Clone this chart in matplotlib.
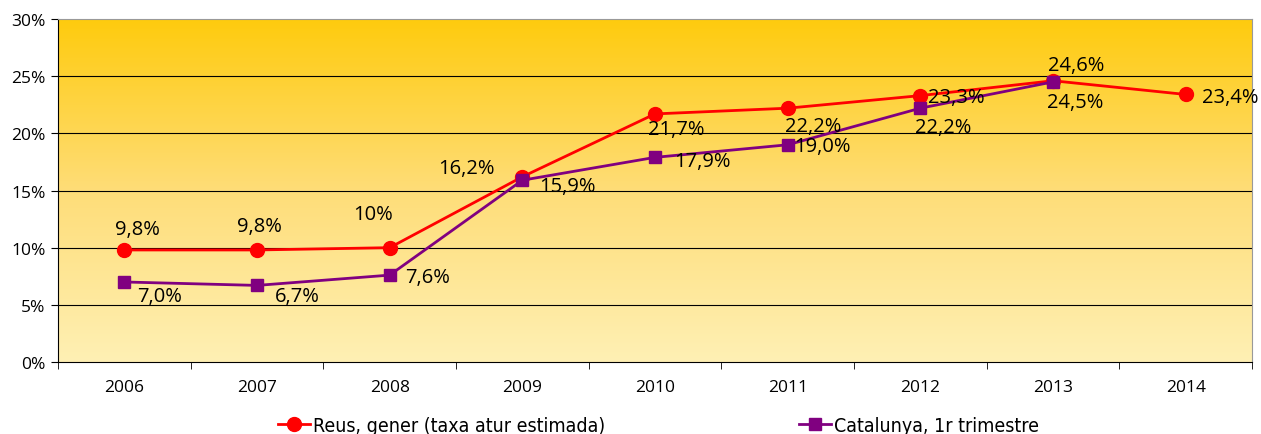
import numpy as np
import matplotlib.pyplot as plt
from matplotlib.colors import LinearSegmentedColormap
from matplotlib.ticker import FixedLocator

# Dades
anys = ['2006', '2007', '2008', '2009', '2010', '2011', '2012', '2013', '2014']
reus = [9.8, 9.8, 10.0, 16.2, 21.7, 22.2, 23.3, 24.6, 23.4]
catalunya = [7.0, 6.7, 7.6, 15.9, 17.9, 19.0, 22.2, 24.5, np.nan]
etiquetes_reus = ['9,8%', '9,8%', '10%', '16,2%', '21,7%', '22,2%', '23,3%', '24,6%', '23,4%']
etiquetes_cat = ['7,0%', '6,7%', '7,6%', '15,9%', '17,9%', '19,0%', '22,2%', '24,5%', '']
yticks = [0, 5, 10, 15, 20, 25, 30]

# desplaçaments de les etiquetes (pixels)
off_reus = [(13, 21), (2, 24), (-17, 34), (-56, 9), (21, -15), (25, -18), (36, -1), (23, 16), (45, -3)]
off_cat = [(35, -14), (40, -11), (38, -2), (45, -6), (47, -4), (35, -1), (23, -19), (22, -20), (0, 0)]

plt.rcParams['font.family'] = ['Open Sans', 'DejaVu Sans']

fig = plt.figure(figsize=(12.61, 4.35), dpi=100)
ax = fig.add_axes([0.046, 0.1655, 0.9469, 0.7885])

x = np.arange(len(anys))
ax.set_xlim(-0.5, len(anys) - 0.5)
ax.set_ylim(0, 30)

# fons degradat
cmap = LinearSegmentedColormap.from_list('fons', ['#FFF0B4', '#FEDD78', '#FFCB0E'])
grad = np.linspace(0, 1, 256).reshape(-1, 1)
ax.imshow(grad, cmap=cmap, aspect='auto', origin='lower',
          extent=[-0.5, len(anys) - 0.5, 0, 30], zorder=0)

for v in yticks[1:-1]:
    ax.axhline(v, color='black', lw=0.8, zorder=1)

ax.plot(x, reus, color='#FF0000', lw=2, marker='o', ms=10, zorder=3,
        label='Reus, gener (taxa atur estimada)')
ax.plot(x, catalunya, color='#800080', lw=2, marker='s', ms=9, zorder=4,
        label='Catalunya, 1r trimestre')

for i in range(len(anys)):
    ax.annotate(etiquetes_reus[i], (x[i], reus[i]), xytext=off_reus[i],
                textcoords='offset pixels', ha='center', va='center',
                fontsize=14.5, zorder=5, annotation_clip=False)
    if etiquetes_cat[i]:
        ax.annotate(etiquetes_cat[i], (x[i], catalunya[i]), xytext=off_cat[i],
                    textcoords='offset pixels', ha='center', va='center',
                    fontsize=14.5, zorder=5)

ax.set_yticks(yticks)
ax.set_yticklabels([f'{v}%' for v in yticks], fontsize=12.5)
ax.set_xticks(x)
ax.set_xticklabels(anys, fontsize=12.5)
ax.xaxis.set_minor_locator(FixedLocator(np.arange(-0.5, len(anys), 1)))
ax.tick_params(axis='x', which='major', length=0, pad=12)
ax.tick_params(axis='x', which='minor', length=5, color='black')
ax.tick_params(axis='y', length=5, pad=4)

ax.spines['top'].set_color('#999999')
ax.spines['right'].set_color('#999999')
ax.spines['left'].set_color('black')
ax.spines['bottom'].set_color('black')

ax.legend(loc='center', bbox_to_anchor=(0.503, -0.185), ncol=2, frameon=False,
          columnspacing=10, handlelength=1.65, handletextpad=0.15,
          prop={'family': 'DejaVu Sans', 'stretch': 'condensed', 'size': 14})

fig.savefig('out.png', dpi=100)
